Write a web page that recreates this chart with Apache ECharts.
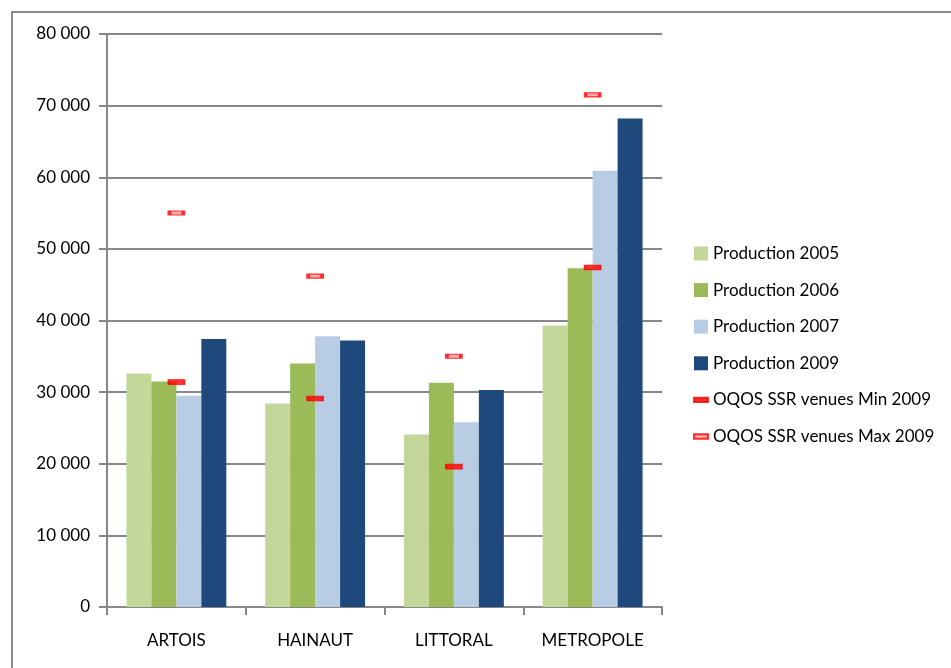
<!DOCTYPE html>
<html>
<head>
<meta charset="utf-8">
<title>Production</title>
<script src="https://cdn.jsdelivr.net/npm/echarts@6/dist/echarts.min.js"></script>
<style>
  html, body { margin: 0; padding: 0; background: #fff; }
  #chart { width: 951px; height: 668px; }
</style>
</head>
<body>
<div id="chart"></div>
<script>
// données
var regions = ['ARTOIS', 'HAINAUT', 'LITTORAL', 'METROPOLE'];
var prod2005 = [32600, 28400, 24100, 39300];
var prod2006 = [31500, 34000, 31300, 47300];
var prod2007 = [29500, 37800, 25800, 60900];
var prod2009 = [37400, 37200, 30300, 68200];
var ssrMin = [31400, 29100, 19600, 47400];
var ssrMax = [55000, 46200, 35000, 71500];
var yTicks = [0, 10000, 20000, 30000, 40000, 50000, 60000, 70000, 80000];

var font = 'Lato, "Open Sans", sans-serif';
var grey = '#888888';

function bar(name, data, color) {
    return {
        name: name,
        type: 'bar',
        data: data,
        barGap: '0%',
        barCategoryGap: '28%',
        itemStyle: { color: color }
    };
}

var chart = echarts.init(document.getElementById('chart'));
var option = {
    animation: false,
    grid: { left: 107, right: 289, top: 34, bottom: 61 },
    legend: {
        orient: 'vertical',
        left: 688,
        top: 240,
        itemGap: 19.6,
        itemWidth: 14,
        itemHeight: 14,
        textStyle: { fontFamily: font, fontSize: 17, color: '#000' },
        data: [
            { name: 'Production 2005', icon: 'rect' },
            { name: 'Production 2006', icon: 'rect' },
            { name: 'Production 2007', icon: 'rect' },
            { name: 'Production 2009', icon: 'rect' },
            { name: 'OQOS SSR venues Min 2009', icon: 'path://M0,4h16v5h-16z' },
            { name: 'OQOS SSR venues Max 2009', icon: 'path://M0,4h16v5h-16z' }
        ]
    },
    xAxis: {
        type: 'category',
        data: regions,
        axisLine: { lineStyle: { color: grey, width: 2 } },
        axisTick: { show: true, length: 8, lineStyle: { color: grey, width: 2 } },
        axisLabel: { margin: 25, fontFamily: font, fontSize: 17, color: '#000' }
    },
    yAxis: {
        type: 'value',
        min: yTicks[0],
        max: yTicks[yTicks.length - 1],
        interval: 10000,
        axisLine: { show: true, lineStyle: { color: grey, width: 2 } },
        axisTick: { show: true, length: 8, lineStyle: { color: grey, width: 2 } },
        splitLine: { lineStyle: { color: grey, width: 2 } },
        axisLabel: {
            margin: 17,
            fontFamily: font,
            fontSize: 17,
            color: '#000',
            formatter: function (v) {
                return String(v).replace(/\B(?=(\d{3})+(?!\d))/g, ' ');
            }
        }
    },
    series: [
        bar('Production 2005', prod2005, '#c4d79b'),
        bar('Production 2006', prod2006, '#9bbb59'),
        bar('Production 2007', prod2007, '#b8cce4'),
        bar('Production 2009', prod2009, '#1f497d'),
        {
            name: 'OQOS SSR venues Min 2009',
            type: 'scatter',
            data: ssrMin,
            symbol: 'rect',
            symbolSize: [16, 5],
            itemStyle: { color: '#ff0000', borderColor: '#ff0000', borderWidth: 1 },
            z: 5
        },
        {
            name: 'OQOS SSR venues Max 2009',
            type: 'scatter',
            data: ssrMax,
            symbol: 'rect',
            symbolSize: [14, 4],
            itemStyle: { color: '#ff9a9a', borderColor: '#ff0000', borderWidth: 2 },
            z: 5
        }
    ],
    graphic: [{
        type: 'polyline',
        shape: { points: [[12, 680], [12, 12], [951, 12]] },
        style: { stroke: '#8c8c8c', lineWidth: 2, fill: null },
        silent: true
    }]
};
chart.setOption(option);
</script>
</body>
</html>
